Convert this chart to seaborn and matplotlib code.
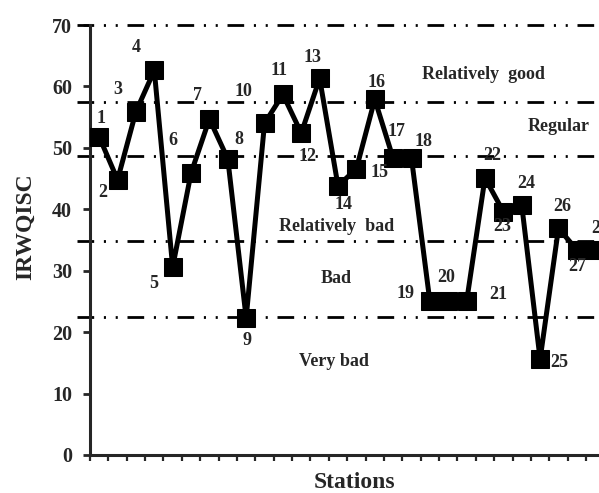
import numpy as np
import pandas as pd
import matplotlib
matplotlib.use("Agg")
import matplotlib.pyplot as plt
import seaborn as sns

# Data: IRWQISC index per sampling station
stations = list(range(1, 29))
irwqisc = [51.8, 44.8, 55.9, 62.6, 30.6, 45.9, 54.7, 48.2, 22.3, 54.0,
           58.7, 52.4, 61.3, 43.8, 46.6, 57.9, 48.3, 48.3, 25.0, 25.1,
           25.0, 45.1, 39.6, 40.7, 15.6, 36.9, 33.4, 33.3]

# class boundaries (dash-dot lines)
thresholds = [22.5, 34.9, 48.6, 57.4, 70]
class_names = ["Relatively  good", "Regular", "Relatively  bad", "Bad", "Very bad"]
class_pos = [(21.9, 61.9), (26.0, 53.4), (13.9, 37.2), (13.9, 28.8), (13.8, 15.2)]

# offsets (pixels) of the station number labels
label_off = [(2, 18), (-15, -13), (-18, 22), (-18, 23), (-19, -16), (-18, 33),
             (-12, 23), (11, 19), (1, -22), (-21, 32), (-4, 24), (6, -23),
             (-7, 21), (6, -19), (23, -4), (2, 17), (3, 27), (12, 17),
             (-24, 8), (-2, 23), (32, 7), (7, 22), (-1, -15), (5, 21),
             (19, -3), (4, 22), (0, -17), (5, 22)]

df = pd.DataFrame({"Station": stations, "IRWQISC": irwqisc})

sns.set_style("ticks")
plt.rcParams["font.family"] = ["Liberation Serif", "DejaVu Serif"]
plt.rcParams["font.weight"] = "bold"

fig = plt.figure(figsize=(5.99, 4.93), dpi=100)
# axes run a little past the right edge, as in the original
ax = fig.add_axes([90 / 599, 38 / 493, 514.4 / 599, 430 / 493])

dash = (0, (6, 3.5, 0.75, 3.5, 0.75, 3.5))
for t in thresholds:
    ax.axhline(t, xmin=-0.025, xmax=1, color="black", lw=2,
               linestyle=dash, clip_on=False, zorder=1)

sns.lineplot(data=df, x="Station", y="IRWQISC", ax=ax, color="black",
             lw=3.6, marker="s", markersize=12.5, markeredgecolor="black",
             zorder=3)

for s, v, (dx, dy) in zip(stations, irwqisc, label_off):
    ax.annotate(str(s), (s, v), xytext=(dx, dy), textcoords="offset pixels",
                ha="center", va="center", fontsize=13, fontweight="bold")

for name, (x, y) in zip(class_names, class_pos):
    ax.text(x, y, name, ha="center", va="center", fontsize=13,
            fontweight="bold")

ax.set_xlim(0.5, 28.5)
ax.set_ylim(0, 70)
ax.set_xticks(np.arange(0.5, 29, 1))
ax.set_xticklabels([])
ax.set_yticks(range(0, 71, 10))
ax.tick_params(axis="y", length=5, width=2, labelsize=14.5, pad=8)
ax.tick_params(axis="x", length=4.3, width=1.6)
for lab in ax.get_yticklabels():
    lab.set_fontweight("bold")

ax.set_xlabel("Stations", fontsize=17, fontweight="bold")
ax.set_ylabel("IRWQISC", fontsize=17, fontweight="bold")
ax.xaxis.set_label_coords(0.514, -0.039)
ax.yaxis.set_label_coords(-0.105, 0.53)

sns.despine(ax=ax, top=True, right=True)
ax.spines["left"].set_linewidth(2.2)
ax.spines["bottom"].set_linewidth(2.2)

fig.savefig("out.png", dpi=100)
